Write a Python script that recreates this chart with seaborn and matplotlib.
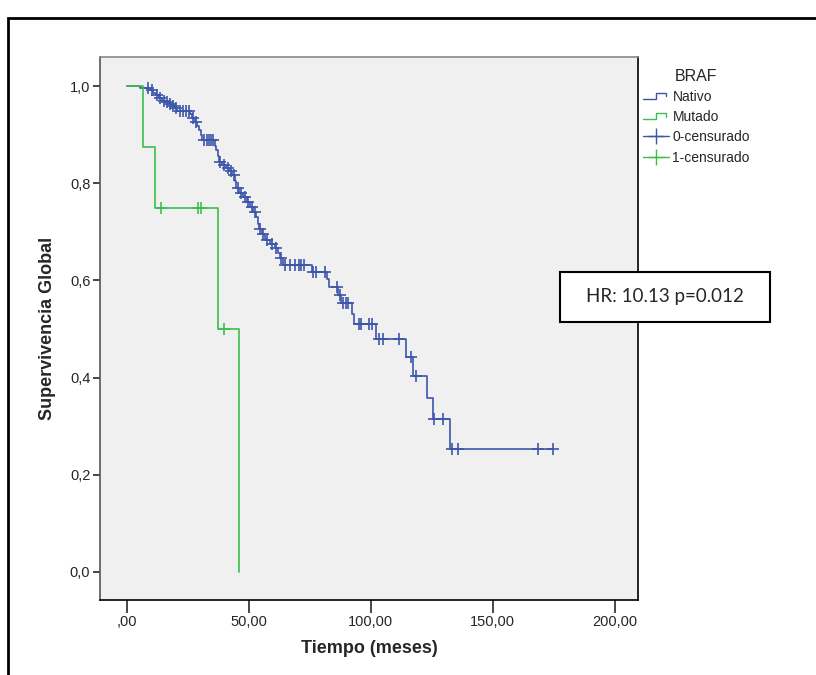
import numpy as np
import matplotlib
matplotlib.use("Agg")
import matplotlib.pyplot as plt
import seaborn as sns
from matplotlib.lines import Line2D
from matplotlib.legend_handler import HandlerBase
from matplotlib.patches import Rectangle

# Kaplan-Meier curve, BRAF nativo (time of drop, survival after drop)
nat_t = [0, 5.3, 9.4, 10.7, 11.9, 13.1, 14.3, 16.0, 17.2, 18.4, 19.7, 20.5, 25.8, 26.6,
         27.9, 28.7, 29.5, 30.3, 30.7, 36.1, 36.5, 37.3, 37.7, 38.9, 40.6, 41.8, 43.0,
         44.3, 44.7, 45.9, 47.5, 49.2, 50.4, 51.6, 52.9, 53.7, 54.1, 55.3, 56.6, 58.6,
         60.7, 61.9, 62.7, 63.9, 75.8, 82.0, 82.8, 86.5, 87.7, 92.2, 93.0, 102.0, 114.3,
         117.2, 123.0, 125.4, 132.4]
nat_s = [1.0, 0.997, 0.992, 0.986, 0.981, 0.975, 0.969, 0.967, 0.963, 0.959, 0.955, 0.949,
         0.942, 0.934, 0.926, 0.918, 0.909, 0.899, 0.889, 0.877, 0.868, 0.856, 0.844, 0.837,
         0.831, 0.825, 0.817, 0.805, 0.790, 0.780, 0.772, 0.761, 0.751, 0.741, 0.730, 0.716,
         0.706, 0.695, 0.683, 0.675, 0.667, 0.656, 0.646, 0.632, 0.617, 0.603, 0.586, 0.570,
         0.553, 0.531, 0.510, 0.479, 0.442, 0.403, 0.358, 0.315, 0.253]
nat_cens = [8.6, 10.2, 12.3, 13.5, 15.2, 16.4, 17.6, 18.9, 20.1, 21.7, 23.0, 24.2, 25.4,
            27.0, 28.3, 31.6, 32.8, 33.6, 34.4, 35.2, 38.1, 39.8, 41.4, 42.6, 43.9, 45.5,
            46.7, 48.4, 49.6, 51.2, 52.5, 54.5, 55.7, 57.4, 59.4, 61.1, 63.1, 64.8, 66.8,
            68.9, 70.5, 71.3, 72.5, 76.2, 77.5, 81.1, 86.1, 87.3, 88.5, 89.8, 90.6, 95.1,
            95.9, 99.2, 100.4, 103.3, 104.9, 111.5, 116.4, 118.4, 125.8, 129.5, 133.2,
            135.7, 168.4, 174.6]

# BRAF mutado
mut_t = [0, 6.5, 11.5, 37.3, 46.0]
mut_s = [1.0, 0.875, 0.75, 0.5, 0.0]
mut_cens = [14.0, 29.0, 30.5, 40.0]

xticks = [0, 50, 100, 150, 200]
xticklabels = [",00", "50,00", "100,00", "150,00", "200,00"]
yticks = [0.0, 0.2, 0.4, 0.6, 0.8, 1.0]
yticklabels = ["0,0", "0,2", "0,4", "0,6", "0,8", "1,0"]

blue = "#3C56AA"
green = "#3DBE4C"

sns.set_style("ticks", {"axes.facecolor": "#F0F0F0"})
plt.rcParams["font.family"] = ["Liberation Sans", "DejaVu Sans"]
narrow = ["Liberation Sans Narrow", "Liberation Sans", "DejaVu Sans"]


def level_at(times, surv, t):
    i = np.searchsorted(times, t, side="right") - 1
    return surv[i]


fig = plt.figure(figsize=(8.16, 6.75), dpi=100)
ax = fig.add_axes([100 / 816, 1 - 600 / 675, 538 / 816, 543 / 675])

# outer frame
fig.patches.append(Rectangle((8 / 816, -0.2), 1.2, 1.2 - 18 / 675, transform=fig.transFigure,
                             fill=False, edgecolor="black", lw=2))

nx = list(nat_t) + [max(nat_cens)]
ny = list(nat_s) + [nat_s[-1]]
sns.lineplot(x=nx, y=ny, ax=ax, color=blue, lw=1.2, drawstyle="steps-post",
             estimator=None, sort=False)
sns.lineplot(x=mut_t, y=mut_s, ax=ax, color=green, lw=1.2, drawstyle="steps-post",
             estimator=None, sort=False)

nat_cy = [level_at(nat_t, nat_s, t) for t in nat_cens]
mut_cy = [level_at(mut_t, mut_s, t) for t in mut_cens]
sns.scatterplot(x=nat_cens, y=nat_cy, ax=ax, marker="+", color=blue, s=75, linewidth=1.2)
sns.scatterplot(x=mut_cens, y=mut_cy, ax=ax, marker="+", color=green, s=75, linewidth=1.2)

ax.set_xlim(-11, 209.5)
ax.set_ylim(-0.058, 1.06)
ax.set_xticks(xticks)
ax.set_xticklabels(xticklabels, family=narrow)
ax.set_yticks(yticks)
ax.set_yticklabels(yticklabels, family=narrow)
ax.tick_params(axis="x", length=9, width=1.2, labelsize=10.5, pad=2)
ax.tick_params(axis="y", length=5, width=1.2, labelsize=10.5, pad=2)
for sp in ax.spines.values():
    sp.set_visible(True)
    sp.set_color("black")
    sp.set_linewidth(1.2)
ax.spines["left"].set_color("#555555")
ax.spines["top"].set_color("#888888")

ax.set_xlabel("Tiempo (meses)", fontsize=13, fontweight="bold", labelpad=8)
ax.set_ylabel("Supervivencia Global", fontsize=13, fontweight="bold", labelpad=10)


class StepHandler(HandlerBase):
    def create_artists(self, legend, orig_handle, xdescent, ydescent, width, height,
                       fontsize, trans):
        xs = np.array([0, 0.5, 0.5, 0.9, 0.9]) * width - xdescent
        ys = np.array([0.2, 0.2, 0.85, 0.85, 0.45]) * height - ydescent
        line = Line2D(xs, ys, color=orig_handle.get_color(), lw=1)
        line.set_transform(trans)
        return [line]


h_nat = Line2D([], [], color=blue)
h_mut = Line2D([], [], color=green)
h_c0 = Line2D([0], [0], color=blue, marker="+", markersize=12, lw=1)
h_c1 = Line2D([0], [0], color=green, marker="+", markersize=12, lw=1)
leg = fig.legend([h_nat, h_mut, h_c0, h_c1], ["Nativo", "Mutado", "0-censurado", "1-censurado"],
                 handler_map={h_nat: StepHandler(), h_mut: StepHandler()},
                 loc="upper left", bbox_to_anchor=(637 / 816, 1 - 63 / 675), frameon=False,
                 title="BRAF", fontsize=10, title_fontsize=11.5, handlelength=1.9,
                 handletextpad=0.25, labelspacing=0.45, borderaxespad=0)

# HR box
fig.patches.append(Rectangle((560 / 816, 1 - 322 / 675), 210 / 816, 50 / 675,
                             transform=fig.transFigure, facecolor="white",
                             edgecolor="black", lw=1.5))
fig.text(665 / 816, 1 - 297 / 675, "HR: 10.13 p=0.012", ha="center", va="center",
         fontsize=13.5, family=["Lato", "DejaVu Sans"])

fig.savefig("out.png", dpi=100)
